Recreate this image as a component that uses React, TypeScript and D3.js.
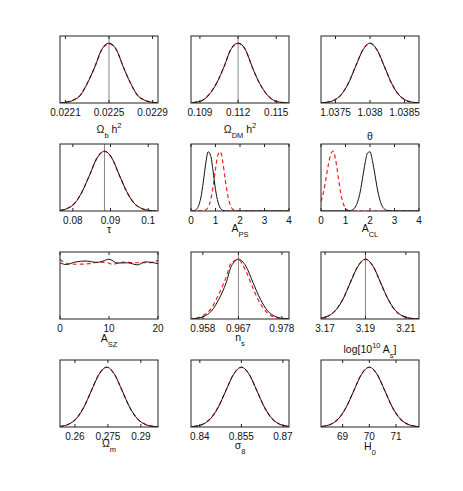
import React from 'react';
import * as d3 from 'd3';

const W = 463;
const H = 491;
const colLeft = [60, 191, 321];
const rowTop = [36, 144, 252, 360];
const boxW = 98;
const boxH = 67;
const yTop = 1.12;

// Omega_b h^2
const obhX = [0.02204, 0.0221, 0.02217, 0.02224, 0.0223, 0.02237, 0.02243, 0.0225, 0.02257, 0.02263, 0.0227, 0.02276, 0.02283, 0.0229, 0.02296];
const obhBlack = [0.002, 0.011, 0.044, 0.135, 0.325, 0.607, 0.882, 1, 0.882, 0.607, 0.325, 0.135, 0.044, 0.011, 0.002];
const obhRed = [0.003, 0.013, 0.048, 0.14, 0.33, 0.6, 0.878, 0.99, 0.886, 0.612, 0.322, 0.13, 0.045, 0.012, 0.002];
const obhTicks = [0.0221, 0.0225, 0.0229];

// Omega_DM h^2
const odmX = [0.108, 0.1086, 0.1092, 0.1097, 0.1103, 0.1109, 0.1114, 0.112, 0.1126, 0.1131, 0.1137, 0.1143, 0.1148, 0.1154, 0.116];
const odmBlack = [0.002, 0.011, 0.044, 0.135, 0.325, 0.607, 0.882, 1, 0.882, 0.607, 0.325, 0.135, 0.044, 0.011, 0.002];
const odmRed = [0.002, 0.012, 0.046, 0.138, 0.328, 0.61, 0.884, 0.998, 0.88, 0.604, 0.322, 0.133, 0.043, 0.011, 0.002];
const odmTicks = [0.109, 0.112, 0.115];

// theta
const thX = [1.037265, 1.03737, 1.037475, 1.03758, 1.037685, 1.03779, 1.037895, 1.038, 1.038105, 1.03821, 1.038315, 1.03842, 1.038525, 1.03863, 1.038735];
const thBlack = [0.002, 0.011, 0.044, 0.135, 0.325, 0.607, 0.882, 1, 0.882, 0.607, 0.325, 0.135, 0.044, 0.011, 0.002];
const thRed = [0.002, 0.011, 0.045, 0.137, 0.33, 0.612, 0.886, 0.999, 0.878, 0.602, 0.321, 0.133, 0.044, 0.011, 0.002];
const thTicks = [1.0375, 1.038, 1.0385];

// tau
const tauX = [0.0748, 0.0767, 0.0786, 0.0806, 0.0825, 0.0845, 0.0864, 0.0884, 0.0904, 0.0923, 0.0943, 0.0962, 0.0982, 0.1001, 0.1021];
const tauBlack = [0.002, 0.011, 0.044, 0.135, 0.325, 0.607, 0.882, 1, 0.882, 0.607, 0.325, 0.135, 0.044, 0.011, 0.002];
const tauRed = [0.002, 0.012, 0.046, 0.138, 0.33, 0.612, 0.885, 0.998, 0.879, 0.603, 0.322, 0.134, 0.044, 0.011, 0.002];
const tauTicks = [0.08, 0.09, 0.1];

// A_PS
const apsBlackX = [0, 0.1, 0.2, 0.3, 0.4, 0.5, 0.6, 0.7, 0.8, 0.9, 1.0, 1.1, 1.2, 1.3, 1.4, 1.6, 2, 3, 4];
const apsBlack = [0.001, 0.004, 0.02, 0.077, 0.22, 0.48, 0.79, 0.99, 0.93, 0.67, 0.36, 0.15, 0.047, 0.011, 0.002, 0, 0, 0, 0];
const apsRedX = [0, 0.4, 0.5, 0.6, 0.7, 0.8, 0.9, 1.0, 1.1, 1.2, 1.3, 1.4, 1.5, 1.6, 1.7, 1.8, 2, 3, 4];
const apsRed = [0, 0.001, 0.004, 0.017, 0.063, 0.18, 0.4, 0.7, 0.94, 0.99, 0.81, 0.52, 0.26, 0.1, 0.03, 0.007, 0, 0, 0];
const apsTicks = [0, 1, 2, 3, 4];

// A_CL
const aclBlackX = [0, 1.0, 1.2, 1.3, 1.4, 1.5, 1.6, 1.7, 1.8, 1.9, 2.0, 2.1, 2.2, 2.3, 2.4, 2.5, 2.6, 2.7, 2.9, 4];
const aclBlack = [0, 0, 0.007, 0.023, 0.066, 0.16, 0.32, 0.56, 0.8, 0.97, 0.99, 0.84, 0.61, 0.37, 0.19, 0.08, 0.029, 0.009, 0.001, 0];
const aclRedX = [0, 0.1, 0.2, 0.3, 0.4, 0.5, 0.6, 0.7, 0.8, 0.9, 1.0, 1.1, 1.2, 1.4, 2, 3, 4];
const aclRed = [0.158, 0.31, 0.53, 0.77, 0.95, 1.0, 0.85, 0.58, 0.31, 0.135, 0.046, 0.013, 0.003, 0, 0, 0, 0];
const aclTicks = [0, 1, 2, 3, 4];

// A_SZ
const aszBlackX = [0, 1.3, 3, 5.4, 7.4, 8.7, 10, 11.7, 13.8, 15.8, 17.4, 20];
const aszBlack = [0.94, 0.91, 0.95, 0.97, 0.945, 0.965, 1.0, 0.935, 0.94, 0.905, 0.955, 0.925];
const aszRedX = [0, 1, 3.3, 6, 8, 9.7, 10.7, 12.7, 15.4, 18.1, 20];
const aszRed = [1.0, 0.94, 0.915, 0.925, 0.95, 0.94, 0.915, 0.95, 0.94, 0.94, 0.98];
const aszTicks = [0, 10, 20];

// n_s
const nsX = [0.9546, 0.9565, 0.9583, 0.9602, 0.962, 0.9639, 0.9652, 0.967, 0.9689, 0.9707, 0.9726, 0.9744, 0.9763, 0.9781, 0.98];
const nsBlack = [0.002, 0.011, 0.044, 0.135, 0.325, 0.607, 0.882, 1, 0.882, 0.607, 0.325, 0.135, 0.044, 0.011, 0.002];
const nsRed = [0.004, 0.018, 0.065, 0.184, 0.41, 0.7, 0.94, 0.987, 0.8, 0.51, 0.25, 0.097, 0.029, 0.007, 0.001];
const nsTicks = [0.958, 0.967, 0.978];

// log(10^10 A_s)
const asX = [3.1638, 3.1675, 3.1713, 3.175, 3.1788, 3.1825, 3.1863, 3.19, 3.1938, 3.1975, 3.2013, 3.205, 3.2088, 3.2125, 3.2163];
const asBlack = [0.002, 0.011, 0.044, 0.135, 0.325, 0.607, 0.882, 1, 0.882, 0.607, 0.325, 0.135, 0.044, 0.011, 0.002];
const asRed = [0.002, 0.012, 0.046, 0.139, 0.33, 0.61, 0.884, 0.998, 0.879, 0.604, 0.322, 0.134, 0.044, 0.011, 0.002];
const asTicks = [3.17, 3.19, 3.21];

// Omega_m
const omX = [0.25, 0.2535, 0.257, 0.2605, 0.264, 0.2675, 0.271, 0.2745, 0.278, 0.2815, 0.285, 0.2885, 0.292, 0.2955, 0.299];
const omBlack = [0.002, 0.011, 0.044, 0.135, 0.325, 0.607, 0.882, 1, 0.882, 0.607, 0.325, 0.135, 0.044, 0.011, 0.002];
const omRed = [0.002, 0.012, 0.046, 0.138, 0.33, 0.612, 0.886, 0.999, 0.878, 0.603, 0.321, 0.133, 0.044, 0.011, 0.002];
const omTicks = [0.26, 0.275, 0.29];

// sigma_8
const s8X = [0.8354, 0.8382, 0.841, 0.8438, 0.8466, 0.8494, 0.8522, 0.855, 0.8578, 0.8606, 0.8634, 0.8662, 0.869, 0.8718, 0.8746];
const s8Black = [0.002, 0.011, 0.044, 0.135, 0.325, 0.607, 0.882, 1, 0.882, 0.607, 0.325, 0.135, 0.044, 0.011, 0.002];
const s8Red = [0.003, 0.013, 0.047, 0.14, 0.332, 0.61, 0.884, 0.998, 0.88, 0.604, 0.322, 0.133, 0.043, 0.011, 0.002];
const s8Ticks = [0.84, 0.855, 0.87];

// H_0
const h0X = [67.97, 68.26, 68.55, 68.84, 69.13, 69.42, 69.71, 70, 70.29, 70.58, 70.87, 71.16, 71.45, 71.74, 72.03];
const h0Black = [0.002, 0.011, 0.044, 0.135, 0.325, 0.607, 0.882, 1, 0.882, 0.607, 0.325, 0.135, 0.044, 0.011, 0.002];
const h0Red = [0.002, 0.012, 0.046, 0.138, 0.33, 0.611, 0.885, 0.999, 0.879, 0.604, 0.322, 0.134, 0.044, 0.011, 0.002];
const h0Ticks = [69, 70, 71];

type Part = { t: string; s?: 'sub' | 'sup' };
type Curve = { x: number[]; y: number[]; red: boolean };
interface Panel {
  domain: [number, number];
  ticks: number[];
  curves: Curve[];
  fid?: number;
  label: Part[];
  labelDy: number;
}

const pair = (bx: number[], b: number[], rx: number[], r: number[]): Curve[] => [
  { x: bx, y: b, red: false },
  { x: rx, y: r, red: true },
];

const panels: Panel[] = [
  { domain: [0.02205, 0.02295], ticks: obhTicks, curves: pair(obhX, obhBlack, obhX, obhRed), fid: 0.0225,
    label: [{ t: 'Ω' }, { t: 'b', s: 'sub' }, { t: ' h' }, { t: '2', s: 'sup' }], labelDy: 30 },
  { domain: [0.1083, 0.116], ticks: odmTicks, curves: pair(odmX, odmBlack, odmX, odmRed), fid: 0.112,
    label: [{ t: 'Ω' }, { t: 'DM', s: 'sub' }, { t: ' h' }, { t: '2', s: 'sup' }], labelDy: 30 },
  { domain: [1.03729, 1.03871], ticks: thTicks, curves: pair(thX, thBlack, thX, thRed),
    label: [{ t: 'θ' }], labelDy: 37 },
  { domain: [0.0766, 0.1026], ticks: tauTicks, curves: pair(tauX, tauBlack, tauX, tauRed), fid: 0.0884,
    label: [{ t: 'τ' }], labelDy: 22 },
  { domain: [0, 4], ticks: apsTicks, curves: pair(apsBlackX, apsBlack, apsRedX, apsRed),
    label: [{ t: 'A' }, { t: 'PS', s: 'sub' }], labelDy: 21 },
  { domain: [0, 4], ticks: aclTicks, curves: pair(aclBlackX, aclBlack, aclRedX, aclRed),
    label: [{ t: 'A' }, { t: 'CL', s: 'sub' }], labelDy: 21 },
  { domain: [0, 20], ticks: aszTicks, curves: pair(aszBlackX, aszBlack, aszRedX, aszRed),
    label: [{ t: 'A' }, { t: 'SZ', s: 'sub' }], labelDy: 23 },
  { domain: [0.955, 0.9798], ticks: nsTicks, curves: pair(nsX, nsBlack, nsX, nsRed), fid: 0.967,
    label: [{ t: 'n' }, { t: 's', s: 'sub' }], labelDy: 22 },
  { domain: [3.168, 3.2165], ticks: asTicks, curves: pair(asX, asBlack, asX, asRed), fid: 3.19,
    label: [{ t: 'log[10' }, { t: '10', s: 'sup' }, { t: ' A' }, { t: 's', s: 'sub' }, { t: ']' }], labelDy: 34 },
  { domain: [0.2532, 0.2978], ticks: omTicks, curves: pair(omX, omBlack, omX, omRed),
    label: [{ t: 'Ω' }, { t: 'm', s: 'sub' }], labelDy: 20 },
  { domain: [0.8368, 0.8722], ticks: s8Ticks, curves: pair(s8X, s8Black, s8X, s8Red),
    label: [{ t: 'σ' }, { t: '8', s: 'sub' }], labelDy: 22 },
  { domain: [68.19, 71.86], ticks: h0Ticks, curves: pair(h0X, h0Black, h0X, h0Red),
    label: [{ t: 'H' }, { t: '0', s: 'sub' }], labelDy: 23 },
];

const FONT = "'Liberation Sans Narrow', 'Liberation Sans', Arial, sans-serif";

function AxisLabel({ parts, x, y }: { parts: Part[]; x: number; y: number }) {
  let shift = 0;
  return (
    <text x={x} y={y} textAnchor="middle" fontSize={10.5} fontFamily={FONT} fill="#111">
      {parts.map((p, i) => {
        const target = p.s === 'sub' ? 4.5 : p.s === 'sup' ? -5 : 0;
        const dy = target - shift;
        shift = target;
        return (
          <tspan key={i} dy={dy} fontSize={p.s ? 7.5 : 10.5}>{p.t}</tspan>
        );
      })}
    </text>
  );
}

function PanelView({ p, idx }: { p: Panel; idx: number }) {
  const left = colLeft[idx % 3];
  const top = rowTop[Math.floor(idx / 3)];
  const x = d3.scaleLinear().domain(p.domain).range([left, left + boxW]);
  const y = d3.scaleLinear().domain([0, yTop]).range([top + boxH, top]);
  const clipId = `clip-${idx}`;
  const bottom = top + boxH;

  return (
    <g>
      <defs>
        <clipPath id={clipId}>
          <rect x={left} y={top - 2} width={boxW} height={boxH + 2} />
        </clipPath>
      </defs>
      {p.fid !== undefined && (
        <line x1={x(p.fid)} x2={x(p.fid)} y1={top} y2={bottom} stroke="#777" strokeWidth={0.9} />
      )}
      <g clipPath={`url(#${clipId})`}>
        {[...p.curves].reverse().map((c, i) => {
          const pts = c.x.map((v, j) => [v, c.y[j]] as [number, number]);
          const path = d3.line<[number, number]>()
            .x(d => x(d[0]))
            .y(d => y(d[1]))
            .curve(d3.curveMonotoneX)(pts) || '';
          return (
            <path key={i} d={path} fill="none"
              stroke={c.red ? '#ff1a1a' : '#111'}
              strokeWidth={c.red ? 1.2 : 1}
              strokeDasharray={c.red ? '4,3' : undefined} />
          );
        })}
      </g>
      <rect x={left} y={top} width={boxW} height={boxH} fill="none" stroke="#222" strokeWidth={1} />
      {p.ticks.map(t => (
        <g key={t}>
          <line x1={x(t)} x2={x(t)} y1={bottom} y2={bottom - 3} stroke="#222" />
          <line x1={x(t)} x2={x(t)} y1={top} y2={top + 3} stroke="#222" />
          <text x={x(t)} y={bottom + 12.5} textAnchor="middle" fontSize={10} fontFamily={FONT} fill="#111">
            {String(t)}
          </text>
        </g>
      ))}
      <AxisLabel parts={p.label} x={left + boxW / 2} y={bottom + p.labelDy} />
    </g>
  );
}

export default function App() {
  return (
    <svg width={W} height={H} style={{ position: 'absolute', left: 0, top: 0, background: '#fff' }}>
      {panels.map((p, i) => <PanelView key={i} p={p} idx={i} />)}
    </svg>
  );
}
